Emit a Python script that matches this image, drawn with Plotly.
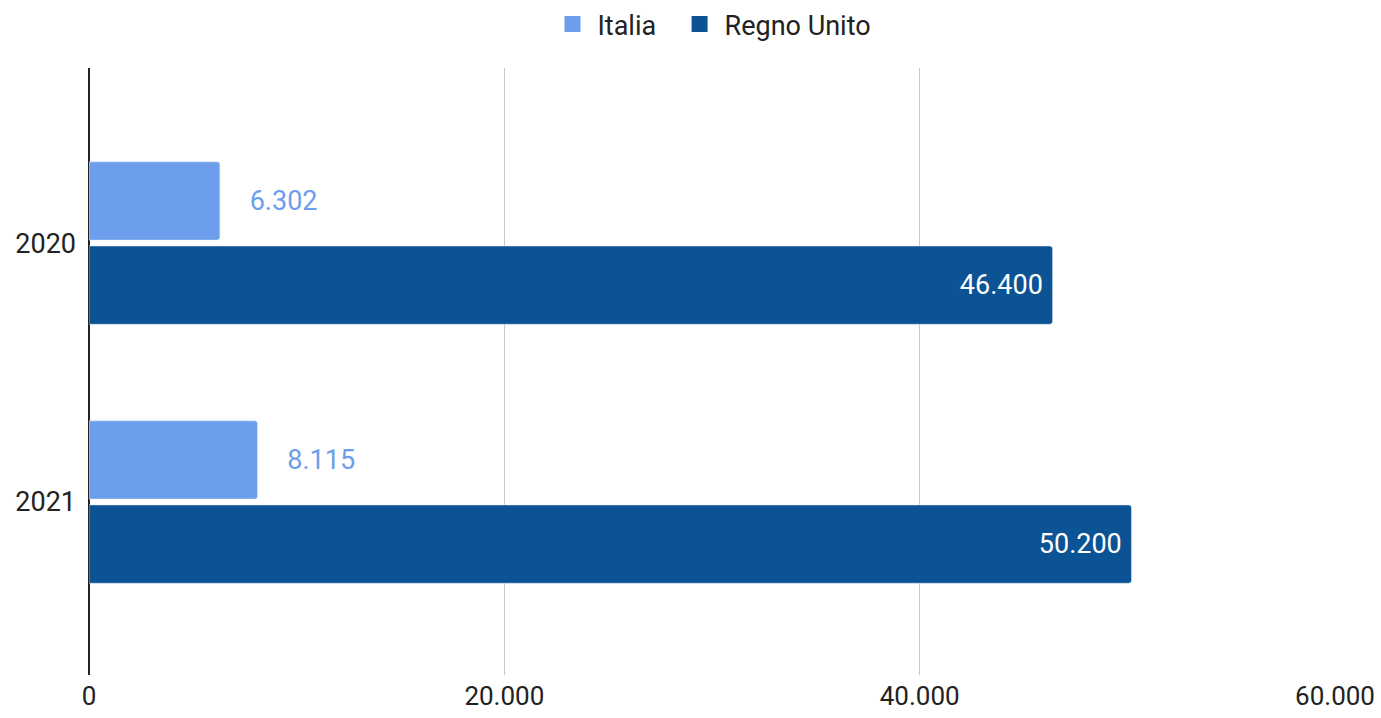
import plotly.graph_objects as go

years = ["2020", "2021"]
italia = [6302, 8115]
regno_unito = [46400, 50200]
x_ticks = [0, 20000, 40000, 60000]

C_IT = "#6d9eeb"
C_UK = "#0b5394"
FONT = "Roboto"
FS = 27

fig = go.Figure()
fig.add_trace(go.Bar(
    y=years, x=italia, name="Italia", orientation="h", showlegend=False,
    marker=dict(color=C_IT, cornerradius=3),
    texttemplate="\u00a0\u00a0\u00a0\u00a0%{x:,}", textposition="outside",
    outsidetextfont=dict(color=C_IT, size=FS, family=FONT),
    cliponaxis=False,
))
fig.add_trace(go.Bar(
    y=years, x=regno_unito, name="Regno Unito", orientation="h", showlegend=False,
    marker=dict(color=C_UK, cornerradius=3),
    texttemplate="%{x:,}\u00a0", textposition="inside", insidetextanchor="end",
    insidetextfont=dict(color="white", size=FS, family=FONT),
))
# legend entries
for name, col in [("Italia\u00a0\u00a0", C_IT), ("Regno Unito", C_UK)]:
    fig.add_trace(go.Scatter(
        x=[None], y=[None], mode="markers", name=name,
        marker=dict(symbol="square", size=28, color=col),
    ))

fig.update_layout(
    width=1381, height=718,
    margin=dict(l=89, r=46, t=68, b=43, autoexpand=False),
    paper_bgcolor="white", plot_bgcolor="white",
    separators=",.",
    barmode="group", bargap=0.35, bargroupgap=0.07,
    font=dict(family=FONT, size=FS, color="#222222"),
    legend=dict(orientation="h", x=0.5, xanchor="center",
                yref="container", y=1.0, yanchor="top",
                font=dict(size=FS, color="#222222"), itemsizing="trace",
                itemwidth=40),
    showlegend=True,
)
fig.update_xaxes(
    range=[0, 60000], tickvals=x_ticks, tickformat=",",
    showgrid=True, gridcolor="#c8c8c8", gridwidth=1,
    zeroline=True, zerolinecolor="#222222", zerolinewidth=1.5,
    showline=False, ticks="", ticklen=0, ticklabelstandoff=3,
    tickfont=dict(size=26, color="#222222"),
)
fig.update_yaxes(
    range=[1.668, -0.676], type="category",
    showgrid=False, showline=False, ticks="", ticklabelstandoff=12,
    tickfont=dict(size=FS, color="#222222"),
)

fig.write_html("out.html")
